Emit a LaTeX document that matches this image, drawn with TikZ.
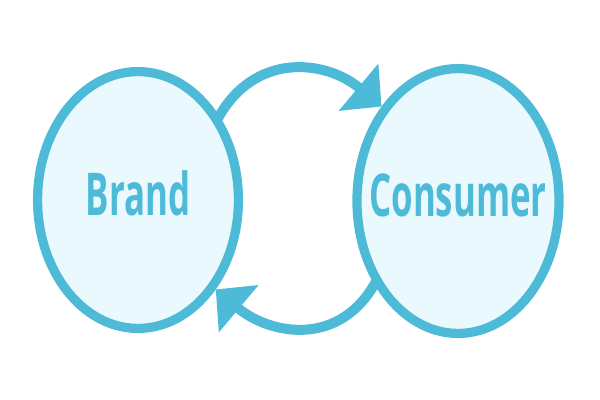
\documentclass[tikz,border=0pt]{standalone}
\usepackage{fontspec}
\usepackage{tikz}
\usetikzlibrary{arrows.meta, shapes.geometric}
\newfontfamily\labelfont[FakeStretch=0.59]{Open Sans}
\definecolor{accent}{HTML}{4DBBD8}
\definecolor{pale}{HTML}{EAF9FD}

\begin{document}
\begin{tikzpicture}[x=0.025cm, y=-0.025cm,
  bubble/.style={ellipse, draw=accent, fill=pale, line width=0.23cm, inner sep=0pt},
  flow/.style={accent, line width=0.25cm, -{Triangle[length=0.75cm, width=1.5cm]}, shorten <=-0.12cm, looseness=1.15},
  lbl/.style={text=accent, font=\labelfont\bfseries\fontsize{42}{42}\selectfont, text height=30pt, text depth=7.5pt, inner sep=0pt}]
  \useasboundingbox (0,0) rectangle (600,400);
  % Elipsy
  \node[bubble, minimum width=5.02cm, minimum height=6.42cm] (brand) at (138,200) {};
  \node[bubble, minimum width=5.05cm, minimum height=6.62cm] (consumer) at (458,201) {};
  % Šipky
  \draw[flow] (brand.46) to[out=62, in=140] (consumer.129);
  \draw[flow] (consumer.225) to[out=242, in=320] (brand.311);
  % Popisky
  \node[lbl] (brandlbl) at (brand) {Brand};
  \node[lbl] (consumerlbl) at (consumer) {Consumer};
\end{tikzpicture}
\end{document}
